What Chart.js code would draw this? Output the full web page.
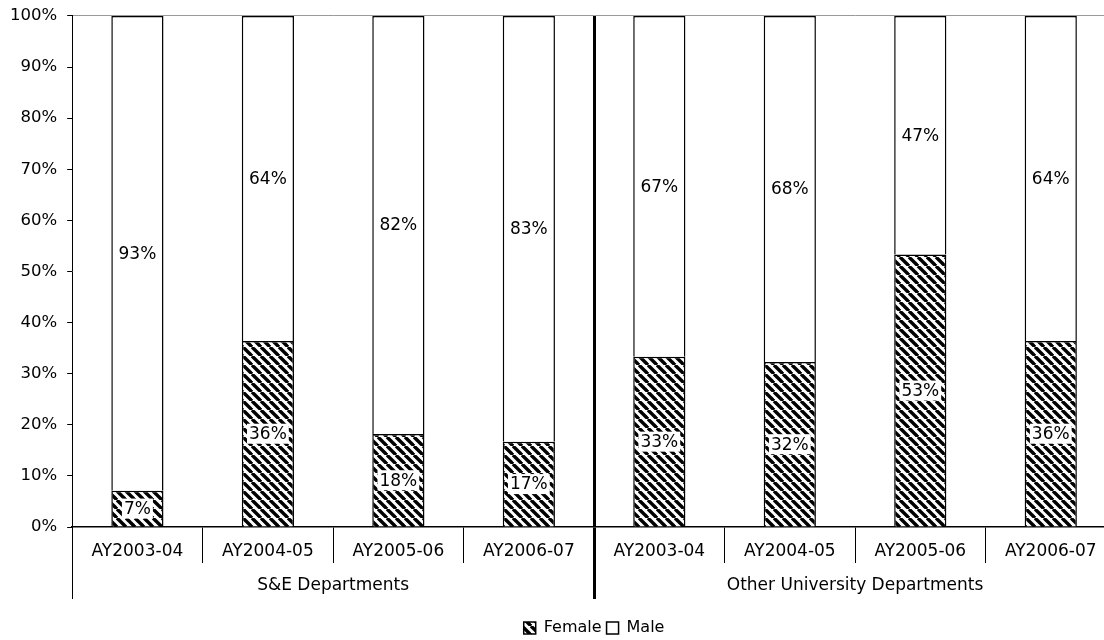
<!DOCTYPE html>
<html>
<head>
<meta charset="utf-8">
<script src="https://cdn.jsdelivr.net/npm/chart.js@4"></script>
<style>
  html, body { margin: 0; padding: 0; background: #fff; overflow: hidden; }
  #wrap { width: 1104px; height: 640px; overflow: hidden; }
  #grafico { position: relative; top: -4px; }
</style>
</head>
<body>
<div id="wrap"><canvas id="grafico" width="1186" height="650"></canvas></div>
<script>
// datos
const anios = ["AY2003-04", "AY2004-05", "AY2005-06", "AY2006-07",
               "AY2003-04", "AY2004-05", "AY2005-06", "AY2006-07"];
const grupos = ["S&E Departments", "Other University Departments"];
const mujeres = [7.1, 36.4, 18.2, 16.7, 33.3, 32.3, 53.3, 36.4];
const hombres = [92.9, 63.6, 81.8, 83.3, 66.7, 67.7, 46.7, 63.6];
const marcasY = [0, 10, 20, 30, 40, 50, 60, 70, 80, 90, 100];

const fuente = "'DejaVu Sans', Verdana, sans-serif";
const canvas = document.getElementById("grafico");
const ctx = canvas.getContext("2d");

// rayado diagonal para la serie Female
function crearRayado() {
  const s = 9;
  const c = document.createElement("canvas");
  c.width = s;
  c.height = s;
  const g = c.getContext("2d");
  g.fillStyle = "#fff";
  g.fillRect(0, 0, s, s);
  g.strokeStyle = "#000";
  g.lineWidth = 3.4;
  for (const o of [-s, 0, s]) {
    g.beginPath();
    g.moveTo(o, 0);
    g.lineTo(o + s, s);
    g.stroke();
  }
  return ctx.createPattern(c, "repeat");
}
const rayado = crearRayado();

// etiquetas de porcentaje con fondo blanco
const etiquetas = {
  id: "etiquetas",
  afterDatasetsDraw(chart) {
    const c = chart.ctx;
    c.save();
    c.font = "17px " + fuente;
    c.textAlign = "center";
    c.textBaseline = "middle";
    chart.data.datasets.forEach((ds, i) => {
      chart.getDatasetMeta(i).data.forEach((bar, j) => {
        const txt = Math.round(ds.data[j]) + "%";
        const y = (bar.y + bar.base) / 2;
        const w = c.measureText(txt).width;
        c.fillStyle = "#fff";
        c.fillRect(bar.x - w / 2 - 2, y - 10, w + 4, 20);
        c.fillStyle = "#000";
        c.fillText(txt, bar.x, y + 1);
      });
    });
    c.restore();
  },
};

new Chart(ctx, {
  type: "bar",
  data: {
    labels: anios,
    datasets: [
      {
        label: "Female",
        data: mujeres,
        backgroundColor: rayado,
        borderColor: "#000",
        borderWidth: 1.5,
        categoryPercentage: 1,
        barPercentage: 0.4,
      },
      {
        label: "Male",
        data: hombres,
        backgroundColor: "#fff",
        borderColor: "#000",
        borderWidth: 1.5,
        categoryPercentage: 1,
        barPercentage: 0.4,
      },
    ],
  },
  options: {
    responsive: false,
    animation: false,
    layout: { padding: { left: 0, right: 70, top: 0, bottom: 0 } },
    plugins: {
      tooltip: { enabled: false },
      legend: {
        position: "bottom",
        fullSize: false,
        labels: {
          color: "#000",
          font: { family: fuente, size: 16 },
          boxWidth: 12,
          boxHeight: 12,
          padding: 5,
        },
      },
    },
    scales: {
      x: {
        stacked: true,
        offset: true,
        border: { color: "#000", width: 1.5 },
        grid: {
          offset: true,
          drawOnChartArea: true,
          tickLength: 36,
          color: (c) => (c.index === 4 ? "#000" : "rgba(0,0,0,0)"),
          lineWidth: (c) => (c.index === 4 ? 3 : 1),
          tickColor: "#000",
          tickWidth: (c) => (c.index === 4 ? 3 : 1),
        },
        ticks: {
          color: "#000",
          font: { family: fuente, size: 17 },
          padding: -21.2,
          autoSkip: false,
          maxRotation: 0,
        },
        afterFit: (eje) => {
          eje.height = 36;
        },
      },
      x2: {
        type: "category",
        labels: grupos,
        position: "bottom",
        offset: true,
        border: { display: false },
        grid: {
          offset: true,
          drawOnChartArea: false,
          tickLength: 36,
          tickColor: "#000",
          tickWidth: (c) => (c.index === 1 ? 3 : 1),
        },
        ticks: {
          color: "#000",
          font: { family: fuente, size: 17 },
          padding: -23.2,
          autoSkip: false,
          maxRotation: 0,
        },
        afterFit: (eje) => {
          eje.height = 52;
        },
      },
      y: {
        stacked: true,
        min: 0,
        max: 100,
        border: { color: "#000", width: 1 },
        grid: {
          tickLength: 5,
          color: (c) => (c.tick && c.tick.value === 100 ? "#999" : "rgba(0,0,0,0)"),
          tickColor: "#000",
        },
        afterBuildTicks: (eje) => {
          eje.ticks = marcasY.map((v) => ({ value: v }));
        },
        ticks: {
          color: "#000",
          font: { family: fuente, size: 16.5 },
          padding: 10,
          callback: (v) => v + "%",
        },
      },
    },
  },
  plugins: [etiquetas],
});
</script>
</body>
</html>
